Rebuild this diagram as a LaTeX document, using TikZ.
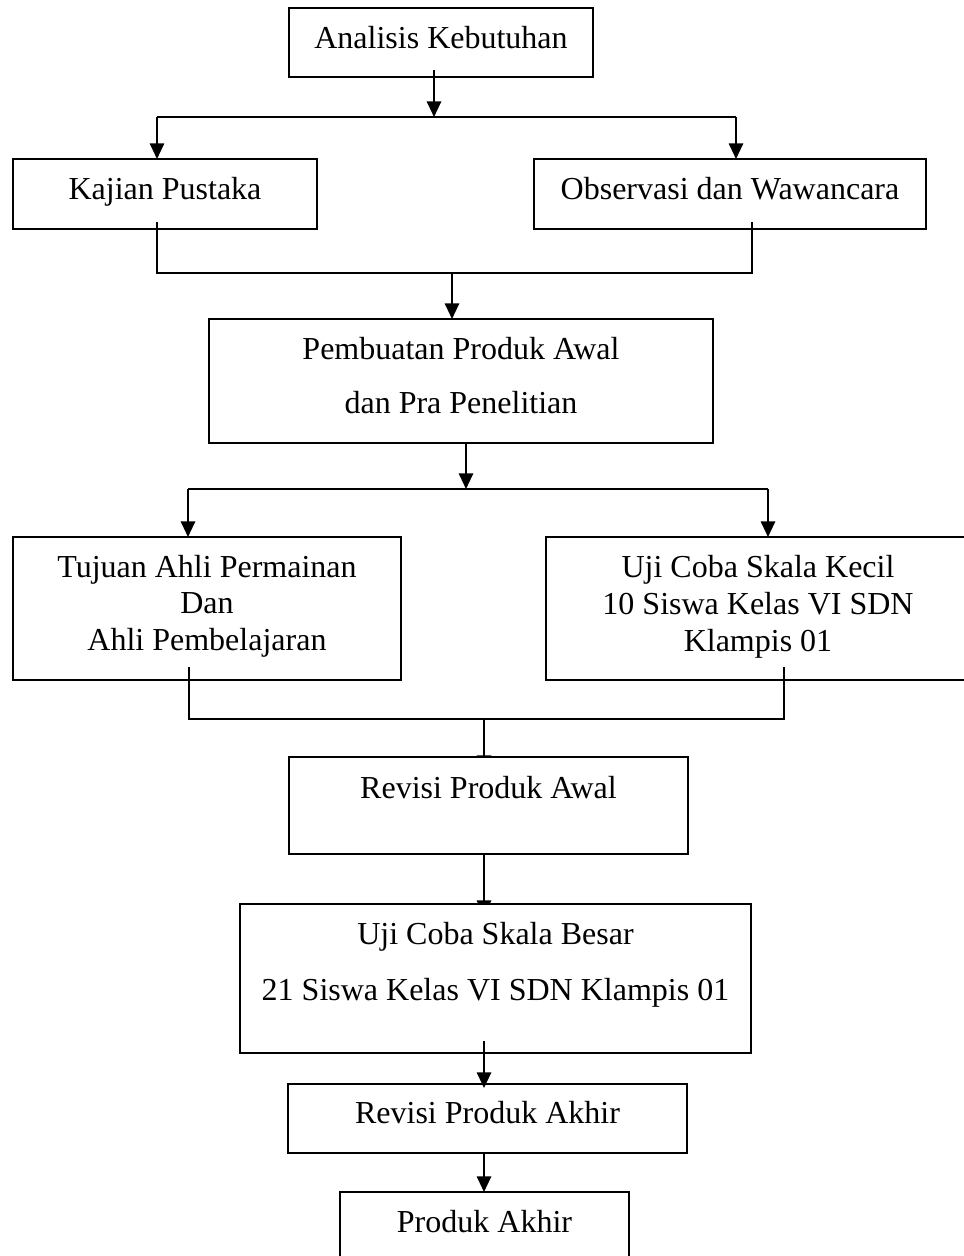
\documentclass[tikz,border=0pt]{standalone}
\usepackage{fontspec}
\setmainfont{Liberation Serif}
\usetikzlibrary{arrows.meta,calc}
\newdimen\px \px=0.375pt
\newcommand\bx[4]{\raisebox{0pt}[\dimexpr#1\px\relax][\dimexpr#2\px\relax]{\fontsize{12pt}{#3}\selectfont\begin{tabular}[t]{@{}c@{}}#4\end{tabular}}}
\pgfdeclarelayer{background}
\pgfsetlayers{background,main}
\begin{document}
\begin{tikzpicture}[x=0.375pt, y=-0.375pt,
  box/.style={draw, line width=0.55pt, fill=white, rectangle, inner sep=0pt, outer sep=0pt, anchor=north west},
  arr/.style={line width=0.75pt, -{Triangle[length=5.9pt,width=5.4pt]}},
  thk/.style={line width=0.75pt},
  ln/.style={line width=0.5pt}]
\useasboundingbox (0,0) rectangle (963,1256);
% boxes
\node[box, minimum width=304\px, minimum height=69\px] (A) at (289,8) {\bx{40}{29}{15pt}{Analisis Kebutuhan}};
\node[box, minimum width=304\px, minimum height=70\px] (K) at (13,159) {\bx{40}{30}{15pt}{Kajian Pustaka}};
\node[box, minimum width=392\px, minimum height=70\px] (O) at (534,159) {\bx{40}{30}{15pt}{Observasi dan Wawancara}};
\node[box, minimum width=504\px, minimum height=124\px] (P) at (209,319) {\bx{40}{84}{20.6pt}{Pembuatan Produk Awal\\dan Pra Penelitian}};
\node[box, minimum width=388\px, minimum height=143\px] (T) at (13,537) {\bx{40}{103}{13.8pt}{Tujuan Ahli Permainan\\Dan\\Ahli Pembelajaran}};
\node[box, minimum width=424\px, minimum height=143\px] (U) at (546,537) {\bx{40}{103}{14pt}{Uji Coba Skala Kecil\\10 Siswa Kelas VI SDN\\Klampis 01}};
\node[box, minimum width=399\px, minimum height=97\px] (R) at (289,757) {\bx{41}{56}{15pt}{Revisi Produk Awal}};
\node[box, minimum width=511\px, minimum height=149\px] (UB) at (240,904) {\bx{40}{109}{21pt}{Uji Coba Skala Besar\\21 Siswa Kelas VI SDN Klampis 01}};
\node[box, minimum width=399\px, minimum height=69\px] (RA) at (288,1084) {\bx{39}{30}{15pt}{Revisi Produk Akhir}};
\node[box, minimum width=289\px, minimum height=90\px] (PA) at (340,1192) {\bx{40}{50}{15pt}{Produk Akhir}};
% junction points
\coordinate (j1) at (434,117);
\coordinate (l1) at (157,117);
\coordinate (r1) at (736,117);
\coordinate (k1) at (157,222);
\coordinate (o1) at (752,222);
\coordinate (j2) at (452,273);
\coordinate (j3) at (466,489);
\coordinate (l3) at (188,489);
\coordinate (r3) at (768,489);
\coordinate (t1) at (189,667);
\coordinate (u1) at (784,667);
\coordinate (j4) at (484,719);
% connectors
\draw[arr] ($(A.south -| j1)+(0,-7)$) -- (j1);
\draw[thk] (l1) -- (r1);
\draw[arr] (l1) -- (l1 |- K.north);
\draw[arr] (r1) -- (r1 |- O.north);
\draw[ln] (k1) |- (j2) -| (o1);
\draw[arr] (j2) -- (j2 |- P.north);
\draw[arr] (P.south -| j3) -- (j3);
\draw[thk] (l3) -- (r3);
\draw[arr] (l3) -- (l3 |- T.north);
\draw[arr] (r3) -- (r3 |- U.north);
\draw[ln] (t1) |- (j4) -| (u1);
\begin{pgfonlayer}{background}
\draw[arr] (j4) -- ($(R.north -| j4)+(0,14)$);
\draw[arr] (R.south -| j4) -- ($(UB.north -| j4)+(0,12)$);
\end{pgfonlayer}
\draw[arr] ($(UB.south -| j4)+(0,-12)$) -- ($(RA.north -| j4)+(0,4)$);
\draw[arr] (RA.south -| j4) -- (PA.north -| j4);
\end{tikzpicture}
\end{document}
